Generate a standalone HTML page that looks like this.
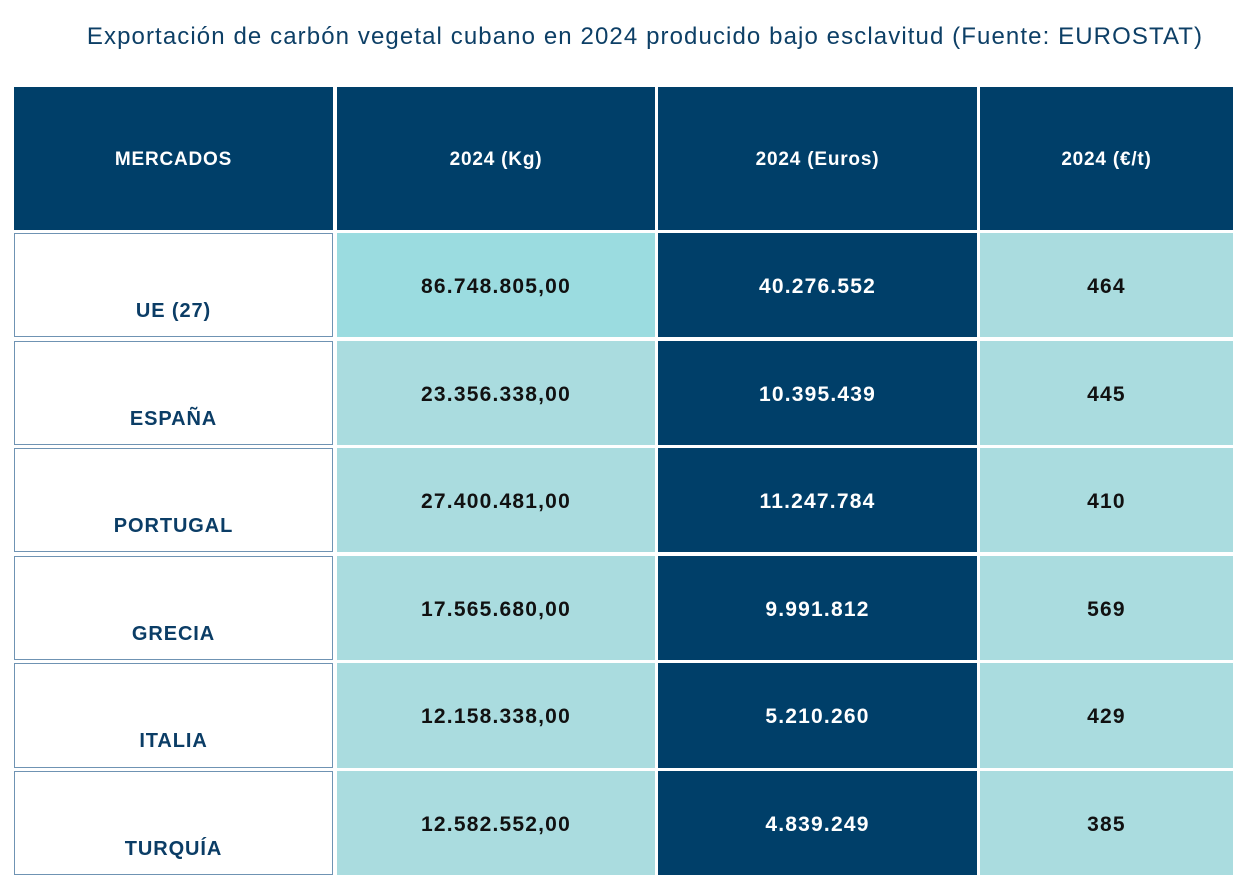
<!DOCTYPE html>
<html><head><meta charset="utf-8"><style>
body{margin:0;width:1250px;height:892px;background:#fff;position:relative;font-family:"Liberation Sans",sans-serif;overflow:hidden}
.c{position:absolute;box-sizing:border-box;display:flex;align-items:center;justify-content:center;font-weight:bold;font-size:20px;letter-spacing:0.6px}
.h{background:#003f69;color:#fff;font-size:19px;letter-spacing:0.8px}
.l{background:#fff;border:1px solid #6f93b3;color:#0b3d66;font-size:20px;align-items:flex-start;letter-spacing:0.9px}
.t{background:#aadcdf;color:#111;font-size:21px;letter-spacing:1.2px}
.d{background:#003f69;color:#fff;font-size:21px;letter-spacing:1.2px}
#title{position:absolute;left:0;width:1290px;top:23px;text-align:center;font-size:24px;letter-spacing:1.1px;color:#0d3f66}
</style></head><body>
<div id="title">Exportación de carbón vegetal cubano en 2024 producido bajo esclavitud (Fuente: EUROSTAT)</div>
<div id="tbl"></div>
<script>
const markets=["UE (27)","ESPAÑA","PORTUGAL","GRECIA","ITALIA","TURQUÍA"];
const kg=["86.748.805,00","23.356.338,00","27.400.481,00","17.565.680,00","12.158.338,00","12.582.552,00"];
const euros=["40.276.552","10.395.439","11.247.784","9.991.812","5.210.260","4.839.249"];
const perT=["464","445","410","569","429","385"];
const headers=["MERCADOS","2024 (Kg)","2024 (Euros)","2024 (€/t)"];
const colX=[[14,333],[337,655],[658,977],[980,1233]];
const rowY=[[233,337],[341,445],[448,552],[556,660],[663,768],[771,875]];
const tbl=document.getElementById('tbl');
function cell(x0,x1,y0,y1,cls,text,pad){
 const d=document.createElement('div');d.className='c '+cls;
 d.style.left=x0+'px';d.style.width=(x1-x0)+'px';d.style.top=y0+'px';d.style.height=(y1-y0)+'px';
 if(pad)d.style.paddingTop=pad+'px';else d.style.paddingTop='3px';
 d.textContent=text;tbl.appendChild(d);return d;}
headers.forEach((h,i)=>{const d=cell(colX[i][0],colX[i][1],87,230,'h',h);

});
markets.forEach((m,r)=>{
 const [y0,y1]=rowY[r];
 let d=cell(colX[0][0],colX[0][1],y0,y1,'l',m,66);
 
 
 d=cell(colX[1][0],colX[1][1],y0,y1,'t',kg[r]);
 if(r===0)d.style.background='#9bdce0';
 
 
 d=cell(colX[2][0],colX[2][1],y0,y1,'d',euros[r]);
 
 
 d=cell(colX[3][0],colX[3][1],y0,y1,'t',perT[r]);
 
 
});
</script>
</body></html>
